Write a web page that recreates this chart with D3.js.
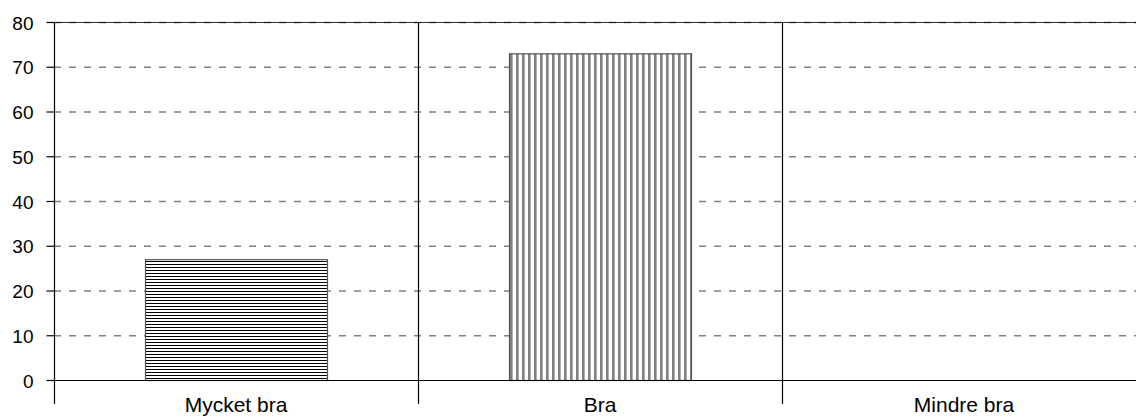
<!DOCTYPE html>
<html><head><meta charset="utf-8">
<script src="https://cdn.jsdelivr.net/npm/d3@7"></script>
<style>body{margin:0;background:#fff}svg{display:block}text{font-family:"Liberation Sans",Arial,sans-serif}</style>
</head><body><svg id="c" width="1136" height="417"></svg>
<script>
const categories = ["Mycket bra", "Bra", "Mindre bra"];
const values = [27, 73, 0];
const yTicks = [0, 10, 20, 30, 40, 50, 60, 70, 80];
const patterns = ["hatchH", "hatchV", "hatchH"];

(function () {
const svg = d3.select("#c");
const mLeft = 54, mRight = 1146, mTop = 22, mBottom = 380;
const x = d3.scaleBand().domain(categories).range([mLeft, mRight]).paddingInner(0).paddingOuter(0);
const y = d3.scaleLinear().domain([0, 80]).range([mBottom, mTop]);

const defs = svg.append("defs");
const ph = defs.append("pattern").attr("id", "hatchH").attr("patternUnits", "userSpaceOnUse").attr("width", 6).attr("height", 3);
ph.append("rect").attr("width", 6).attr("height", 3).attr("fill", "#fff");
ph.append("rect").attr("y", 0).attr("width", 6).attr("height", 1).attr("fill", "#000");
const pv = defs.append("pattern").attr("id", "hatchV").attr("patternUnits", "userSpaceOnUse").attr("width", 6).attr("height", 6);
pv.append("rect").attr("width", 6).attr("height", 6).attr("fill", "#fff");
pv.append("rect").attr("x", 0).attr("width", 2.6).attr("height", 6).attr("fill", "#808080");

// gridlines
svg.append("g").selectAll("line").data(yTicks.filter(d => d > 0)).join("line")
  .attr("x1", mLeft).attr("x2", mRight).attr("y1", d => y(d) + 0.5).attr("y2", d => y(d) + 0.5)
  .attr("stroke", "#808080").attr("stroke-width", 1.3).attr("stroke-dasharray", "7,8");
// top border
svg.append("line").attr("x1", mLeft).attr("x2", mRight).attr("y1", y(80) + 0.5).attr("y2", y(80) + 0.5)
  .attr("stroke", "#000").attr("stroke-width", 1).attr("stroke-opacity", 0.8);

// bars
const bw = x.bandwidth() * 0.5;
svg.append("g").selectAll("rect").data(categories.map((c, i) => ({c, v: values[i], p: patterns[i]})).filter(d => d.v > 0)).join("rect")
  .attr("x", d => x(d.c) + (x.bandwidth() - bw) / 2 + 0.5)
  .attr("y", d => y(d.v) + 0.5)
  .attr("width", bw)
  .attr("height", d => y(0) - y(d.v))
  .attr("fill", d => `url(#${d.p})`)
  .attr("stroke", "#555").attr("stroke-width", 1.2);

// category separators
svg.append("g").selectAll("line").data(categories.slice(1)).join("line")
  .attr("x1", d => x(d) + 0.5).attr("x2", d => x(d) + 0.5).attr("y1", mTop).attr("y2", 404)
  .attr("stroke", "#000").attr("stroke-width", 1.2);

// x axis line
svg.append("line").attr("x1", mLeft).attr("x2", mRight).attr("y1", mBottom + 0.5).attr("y2", mBottom + 0.5)
  .attr("stroke", "#000").attr("stroke-width", 1.2);

// y axis
const yAxis = svg.append("g").attr("transform", `translate(${mLeft + 0.5},0)`)
  .call(d3.axisLeft(y).tickValues(yTicks).tickSize(8).tickPadding(13).tickFormat(d3.format("d")));
yAxis.select(".domain").remove();
yAxis.selectAll(".tick line").attr("stroke", "#000").attr("stroke-width", 1.2);
yAxis.selectAll(".tick text").attr("font-size", 19).attr("fill", "#000").attr("dy", "0.37em")
  .attr("font-family", "Liberation Sans, Arial, sans-serif");
svg.append("line").attr("x1", mLeft + 0.5).attr("x2", mLeft + 0.5).attr("y1", mTop).attr("y2", 404)
  .attr("stroke", "#000").attr("stroke-width", 1.2);

// x labels
svg.append("g").selectAll("text").data(categories).join("text")
  .attr("x", d => x(d) + x.bandwidth() / 2).attr("y", 412)
  .attr("text-anchor", "middle").attr("font-size", 21).attr("fill", "#000")
  .text(d => d);
})();
</script></body></html>
